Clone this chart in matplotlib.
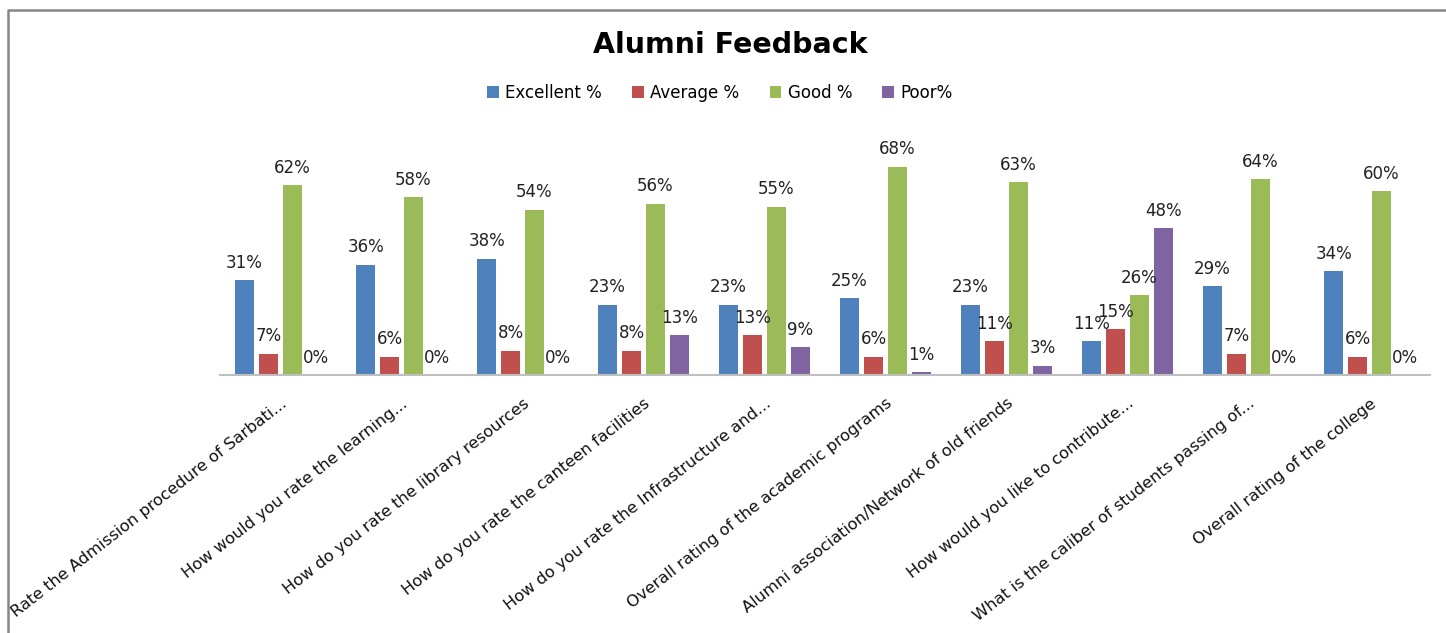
import matplotlib
matplotlib.use("Agg")
import matplotlib.pyplot as plt
from matplotlib.lines import Line2D
import numpy as np

categories = [
    "Rate the Admission procedure of Sarbati...",
    "How would you rate the learning...",
    "How do you rate the library resources",
    "How do you rate the canteen facilities",
    "How do you rate the Infrastructure and...",
    "Overall rating of the academic programs",
    "Alumni association/Network of old friends",
    "How would you like to contribute...",
    "What is the caliber of students passing of...",
    "Overall rating of the college",
]
series_names = ["Excellent %", "Average %", "Good %", "Poor%"]
excellent = [31, 36, 38, 23, 23, 25, 23, 11, 29, 34]
average = [7, 6, 8, 8, 13, 6, 11, 15, 7, 6]
good = [62, 58, 54, 56, 55, 68, 63, 26, 64, 60]
poor = [0, 0, 0, 13, 9, 1, 3, 48, 0, 0]

colors = ["#4F81BD", "#C0504D", "#9BBB59", "#8064A2"]

W, H = 1446, 633
fig = plt.figure(figsize=(W / 100, H / 100), dpi=100)
ax = fig.add_axes([220 / W, (H - 375) / H, 1210 / W, (375 - 130) / H])

x = np.arange(len(categories))
pitch = 0.198
width = 0.157
for i, (name, vals) in enumerate(zip(series_names, [excellent, average, good, poor])):
    xs = x + (i - 1.5) * pitch
    bars = ax.bar(xs, vals, width, color=colors[i], label=name, zorder=2)
    for b, v in zip(bars, vals):
        ax.annotate(f"{v}%", (b.get_x() + b.get_width() / 2, v),
                    xytext=(0, 6), textcoords="offset points",
                    ha="center", va="bottom", fontsize=12, color="#222222")

ax.set_xlim(-0.5, len(categories) - 0.5)
ax.set_ylim(0, 80)
ax.set_yticks([])
for s in ["top", "right", "left"]:
    ax.spines[s].set_visible(False)
ax.spines["bottom"].set_color("#BFBFBF")
ax.spines["bottom"].set_linewidth(1.5)
ax.set_xticks(x)
ax.set_xticklabels(categories, rotation=38, ha="right", rotation_mode="anchor",
                   fontsize=11.7, color="#111111")
ax.tick_params(axis="x", length=0, pad=15)
ax.set_facecolor("none")

fig.text(730 / W, 1 - 45 / H, "Alumni Feedback", ha="center", va="center",
         fontsize=20.5, fontweight="bold")

fig.legend(loc="center", bbox_to_anchor=(720 / W, 1 - 93 / H), ncol=4,
           frameon=False, fontsize=12, handlelength=0.7, handleheight=0.7,
           handletextpad=0.4, columnspacing=1.8)

# chart frame (top and left edges visible)
fig.add_artist(Line2D([8 / W, 8 / W, 1.0], [0.0, 1 - 10 / H, 1 - 10 / H],
                      transform=fig.transFigure, color="#868686", linewidth=1.8))

fig.savefig("out.png", dpi=100)
